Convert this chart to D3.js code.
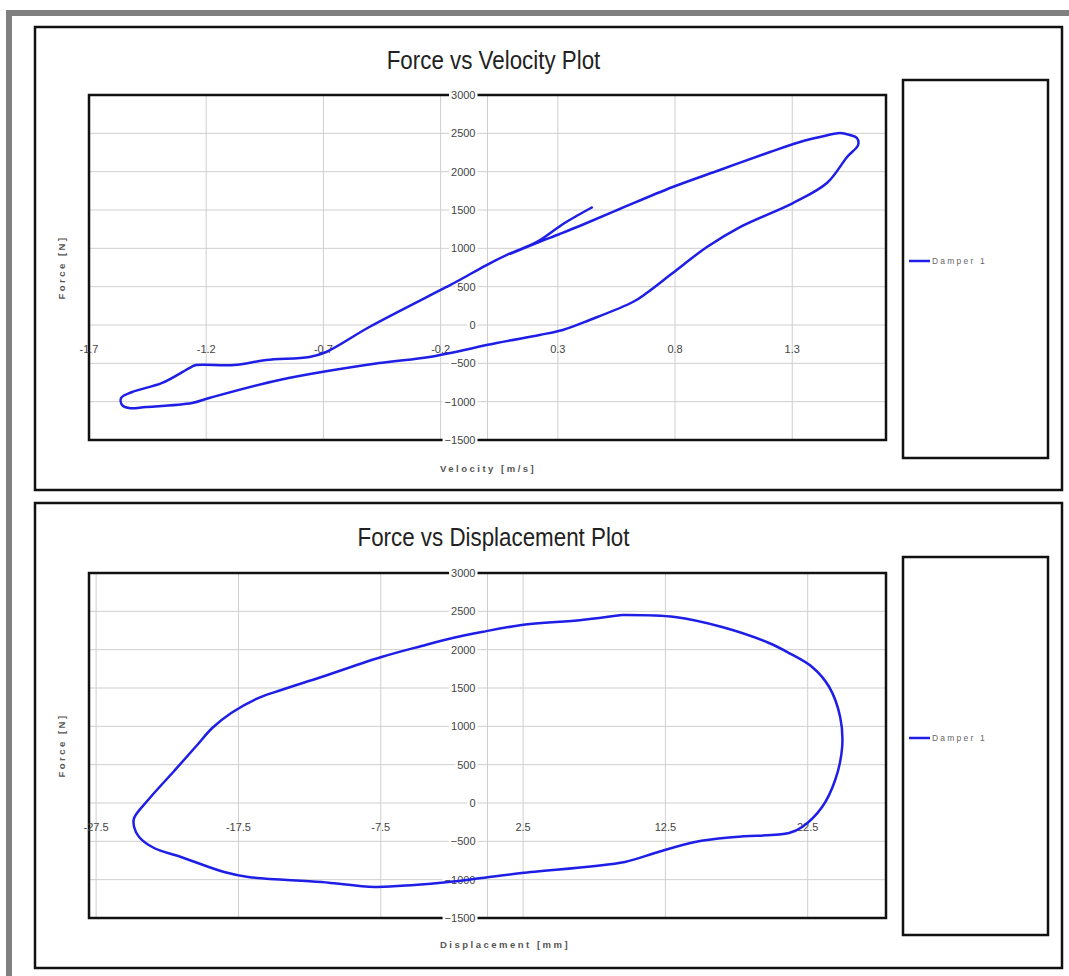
<!DOCTYPE html>
<html><head><meta charset="utf-8">
<script src="https://cdn.jsdelivr.net/npm/d3@7"></script>
<style>
html,body{margin:0;padding:0;background:#fff;}
svg{display:block;}
.tick-l{font-family:"Liberation Sans","Arial",sans-serif;font-size:11px;fill:#444;}
.title{font-family:"Liberation Sans","Arial",sans-serif;font-size:26px;fill:#222;}
.axt{font-family:"Liberation Sans","DejaVu Sans",sans-serif;font-size:9.5px;fill:#555;letter-spacing:2.5px;font-weight:bold;}
.leg{font-family:"Liberation Sans","DejaVu Sans",sans-serif;font-size:8.5px;fill:#666;letter-spacing:2.2px;}
</style></head>
<body>
<script>
// ---- data ----
const velocity = [0.449,0.329,0.209,0.094,-0.004,-0.119,-0.175,-0.504,-0.688,-0.760,-0.944,-1.081,-1.243,-1.264,-1.388,-1.516,-1.563,-1.559,-1.529,-1.457,-1.260,-1.187,-0.888,-0.461,-0.248,0.039,0.222,0.321,0.436,0.620,0.679,0.790,0.936,1.077,1.303,1.448,1.534,1.581,1.576,1.546,1.504,1.418,1.333,1.205,0.991,0.790,0.564,0.393,0.308,0.209,0.094];
const forceV = [1539,1330,1080,930,782,587,496,-26,-352,-417,-456,-522,-522,-548,-756,-874,-952,-1043,-1083,-1070,-1017,-952,-717,-496,-417,-235,-130,-65,65,300,417,678,1017,1278,1591,1852,2191,2348,2439,2478,2504,2452,2387,2256,2022,1800,1513,1291,1187,1070,925];

const displacement = [9.44,6.62,2.40,-0.41,-2.74,-4.63,-7.45,-11.67,-14.49,-16.11,-18.01,-19.34,-20.46,-22.02,-23.85,-24.83,-24.83,-24.48,-23.43,-21.53,-18.50,-16.81,-11.67,-7.94,-5.13,-2.74,-0.41,2.40,9.65,11.76,14.58,17.39,21.19,22.11,23.51,24.43,24.92,24.78,24.01,22.81,21.19,19.78,16.48,13.17,9.44];
const forceD = [2452,2387,2321,2230,2139,2048,1904,1643,1474,1369,1174,978,743,417,39,-196,-313,-443,-587,-704,-900,-965,-1030,-1095,-1069,-1030,-978,-913,-769,-652,-509,-443,-391,-313,-52,300,730,1122,1513,1774,1956,2087,2295,2426,2452];

const velocityTicks = [-1.7,-1.2,-0.7,-0.2,0.3,0.8,1.3];
const velocityDomain = [-1.7,1.7];
const displacementTicks = [-27.5,-17.5,-7.5,2.5,12.5,22.5];
const displacementDomain = [-28,28];
const forceTicks = [-1500,-1000,-500,0,500,1000,1500,2000,2500,3000];
const forceDomain = [-1500,3000];
const seriesName = "Damper 1";

// ---- layout ----
const W = 1069, H = 976;
const BLUE = "#1e1ee6";
const svg = d3.select("body").append("svg").attr("width", W).attr("height", H);
svg.append("rect").attr("width", W).attr("height", H).attr("fill", "#fff");
// outer grey border (top + left)
svg.append("rect").attr("x", 6).attr("y", 10).attr("width", W - 6).attr("height", 6).attr("fill", "#808080");
svg.append("rect").attr("x", 6).attr("y", 10).attr("width", 6).attr("height", H - 10).attr("fill", "#808080");

const charts = [
  {title: "Force vs Velocity Plot", xTitle: "Velocity [m/s]", frame: [35, 27, 1062, 490], plot: [89, 95, 886, 440],
   legend: [903, 80, 1048, 458], xs: velocity, ys: forceV, xTicks: velocityTicks, xDomain: velocityDomain, titleY: 69, xTitleY: 472},
  {title: "Force vs Displacement Plot", xTitle: "Displacement [mm]", frame: [35, 503, 1062, 968], plot: [89, 573, 886, 918],
   legend: [903, 557, 1048, 935], xs: displacement, ys: forceD, xTicks: displacementTicks, xDomain: displacementDomain, titleY: 546, xTitleY: 948}
];

charts.forEach(c => {
  const g = svg.append("g");
  const [fx0, fy0, fx1, fy1] = c.frame;
  g.append("rect").attr("x", fx0).attr("y", fy0).attr("width", fx1 - fx0).attr("height", fy1 - fy0)
    .attr("fill", "#fff").attr("stroke", "#111").attr("stroke-width", 2.5);
  const [px0, py0, px1, py1] = c.plot;
  const x = d3.scaleLinear().domain(c.xDomain).range([px0, px1]);
  const y = d3.scaleLinear().domain(forceDomain).range([py1, py0]);

  // gridlines
  const grid = g.append("g").attr("stroke", "#cfcfcf").attr("stroke-width", 1);
  forceTicks.forEach(t => grid.append("line").attr("x1", px0).attr("x2", px1).attr("y1", y(t)).attr("y2", y(t)));
  c.xTicks.concat([0]).forEach(t => grid.append("line").attr("x1", x(t)).attr("x2", x(t)).attr("y1", py0).attr("y2", py1));

  // plot frame
  g.append("rect").attr("x", px0).attr("y", py0).attr("width", px1 - px0).attr("height", py1 - py0)
    .attr("fill", "none").attr("stroke", "#111").attr("stroke-width", 2.5);

  // y tick labels at the y-axis (x = 0) with white background
  const yl = g.append("g");
  forceTicks.forEach(t => {
    const tx = yl.append("text").attr("class", "tick-l").attr("text-anchor", "end")
      .attr("x", x(0) - 12).attr("y", y(t) + 4).text(d3.format("d")(t));
    const b = tx.node().getBBox();
    yl.insert("rect", "text").attr("x", b.x - 2).attr("y", b.y).attr("width", b.width + 4).attr("height", b.height).attr("fill", "#fff");
  });
  // x tick labels below the x-axis (y = 0)
  c.xTicks.forEach(t => {
    g.append("text").attr("class", "tick-l").attr("text-anchor", "middle")
      .attr("x", x(t)).attr("y", y(0) + 28).text(t);
  });

  // the curve
  const pts = c.xs.map((v, i) => [v, c.ys[i]]);
  g.append("path").datum(pts)
    .attr("d", d3.line().x(d => x(d[0])).y(d => y(d[1])).curve(d3.curveCatmullRom.alpha(0.5)))
    .attr("fill", "none").attr("stroke", BLUE).attr("stroke-width", 2.5).attr("stroke-linejoin", "round");

  // titles (slightly condensed like the original)
  const tcx = (px0 + px1) / 2 + 6;
  g.append("text").attr("class", "title").attr("text-anchor", "middle")
    .attr("transform", `translate(${tcx},${c.titleY}) scale(0.86,1)`).text(c.title);
  g.append("text").attr("class", "axt").attr("x", 440).attr("y", c.xTitleY).text(c.xTitle);
  g.append("text").attr("class", "axt").attr("text-anchor", "middle")
    .attr("transform", `translate(65,${(py0 + py1) / 2}) rotate(-90)`).text("Force [N]");

  // legend
  const [lx0, ly0, lx1, ly1] = c.legend;
  g.append("rect").attr("x", lx0).attr("y", ly0).attr("width", lx1 - lx0).attr("height", ly1 - ly0)
    .attr("fill", "#fff").attr("stroke", "#111").attr("stroke-width", 2.5);
  const ly = (ly0 + ly1) / 2 - 8;
  g.append("line").attr("x1", lx0 + 6).attr("x2", lx0 + 27).attr("y1", ly).attr("y2", ly)
    .attr("stroke", BLUE).attr("stroke-width", 2.5);
  g.append("text").attr("class", "leg").attr("x", lx0 + 29).attr("y", ly + 3).text(seriesName);
});
</script>
</body></html>
